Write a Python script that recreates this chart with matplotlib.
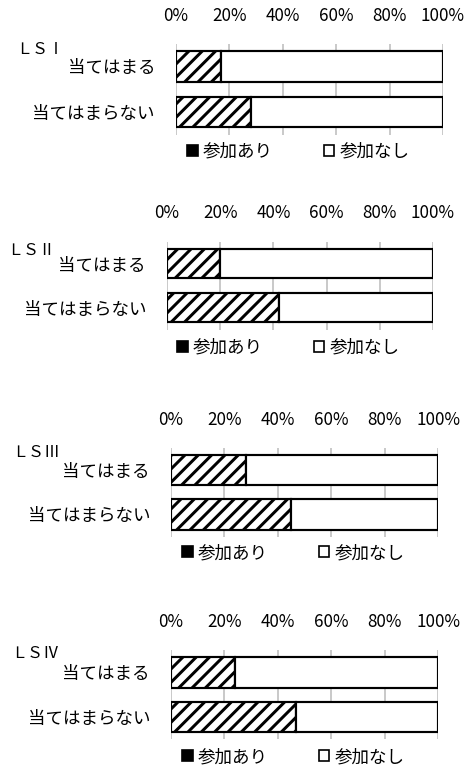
import matplotlib
matplotlib.use("Agg")
import matplotlib.pyplot as plt
from matplotlib.patches import Patch

plt.rcParams['font.family'] = ['Noto Sans CJK JP', 'DejaVu Sans']
plt.rcParams['hatch.linewidth'] = 1.8

# -------------------------------
# DATA
# -------------------------------
categories = ['当てはまる', '当てはまらない']
panel_names = ['ＬＳⅠ', 'ＬＳⅡ', 'ＬＳⅢ', 'ＬＳⅣ']
series_names = ['参加あり', '参加なし']
sanka_ari = [[17, 28], [20, 42], [28, 45], [24, 47]]
sanka_nashi = [[83, 72], [80, 58], [72, 55], [76, 53]]
tick_values = [0, 20, 40, 60, 80, 100]
tick_labels = ['0%', '20%', '40%', '60%', '80%', '100%']

# -------------------------------
# LAYOUT (pixels)
# -------------------------------
W, H, DPI = 471, 767, 120
PX = 72.0 / DPI  # points per pixel

# x0, x1, row1 centre, row2 centre, name xy, legend xy
layout = [
    (176, 443, 66.5, 112.0, (16, 49), (187, 152)),
    (167, 433, 263.5, 307.5, (7, 250), (177, 348)),
    (171, 438, 470.0, 514.5, (12, 452), (182, 553)),
    (171, 438, 672.5, 717.0, (11, 653), (182, 757)),
]

fig = plt.figure(figsize=(W / DPI, H / DPI), dpi=DPI)
fs = 17.5 * PX
fs_tick = 17 * PX

for i, (x0, x1, c1, c2, name_xy, leg_xy) in enumerate(layout):
    sep = c2 - c1
    top = c1 - 0.5 * sep
    bot = c2 + 0.5 * sep
    ax = fig.add_axes([x0 / W, 1 - bot / H, (x1 - x0) / W, (bot - top) / H])

    ypos = [0, 1]
    ax.barh(ypos, sanka_ari[i], height=0.68, color='white', edgecolor='black',
            hatch='///', linewidth=1.3, zorder=3)
    ax.barh(ypos, sanka_nashi[i], left=sanka_ari[i], height=0.68, color='white',
            edgecolor='black', linewidth=1.3, zorder=3)

    ax.set_xlim(0, 100)
    ax.set_ylim(1.5, -0.5)
    ax.set_xticks(tick_values)
    ax.set_xticklabels(tick_labels, fontsize=fs_tick)
    ax.set_yticks(ypos)
    ax.set_yticklabels(categories, fontsize=fs)
    ax.xaxis.tick_top()
    ax.tick_params(axis='x', length=0, pad=19 * PX)
    ax.tick_params(axis='y', length=0, pad=21 * PX)
    ax.grid(axis='x', color='#c0c0c0', linewidth=1.0, zorder=0)
    for s in ax.spines.values():
        s.set_visible(False)

    fig.text(name_xy[0] / W, 1 - name_xy[1] / H, panel_names[i],
             fontsize=16 * PX, ha='left', va='center')

    handles = [Patch(facecolor='black', edgecolor='black', hatch='/', linewidth=1.0),
               Patch(facecolor='white', edgecolor='black', linewidth=1.0)]
    fig.legend(handles, series_names, loc='center left', ncol=2,
               bbox_to_anchor=(leg_xy[0] / W, 1 - leg_xy[1] / H),
               bbox_transform=fig.transFigure, frameon=False, fontsize=fs,
               handlelength=0.6, handleheight=0.6, handletextpad=0.3,
               columnspacing=2.9, borderpad=0, borderaxespad=0)

fig.savefig('out.png', dpi=DPI)
